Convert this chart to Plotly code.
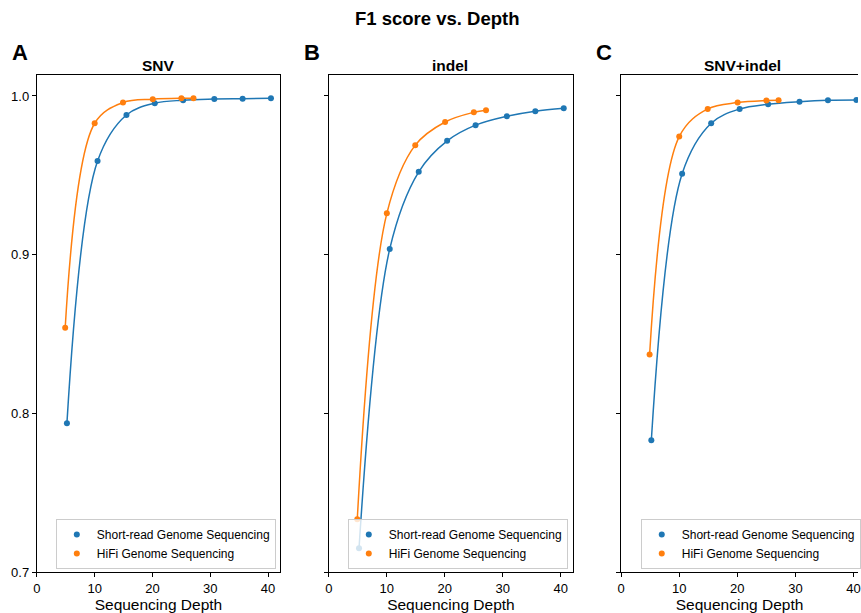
import plotly.graph_objects as go

# ---- data ----
short_depth = [5.2, 10.5, 15.5, 20.4, 25.3, 30.7, 35.6, 40.5]
hifi_depth = [4.9, 10.0, 14.9, 20.05, 25.0, 27.1]

snv_short = [0.7937, 0.959, 0.988, 0.9954, 0.9973, 0.998, 0.9983, 0.9985]
snv_hifi = [0.8539, 0.9828, 0.9958, 0.9979, 0.9985, 0.9985]

indel_short = [0.7149, 0.9036, 0.9522, 0.9717, 0.9816, 0.9872, 0.9904, 0.9922]
indel_hifi = [0.7333, 0.926, 0.969, 0.9836, 0.9897, 0.991]

all_short = [0.783, 0.951, 0.9828, 0.9918, 0.9948, 0.9964, 0.9973, 0.9975]
all_hifi = [0.837, 0.9744, 0.9918, 0.9958, 0.9971, 0.9973]

panel_titles = ["SNV", "indel", "SNV+indel"]
panel_letters = ["A", "B", "C"]
series_names = ["Short-read Genome Sequencing", "HiFi Genome Sequencing"]
y_ticks = [0.7, 0.8, 0.9, 1.0]
x_ticks = [0, 10, 20, 30, 40]

BLUE = "#1f77b4"
ORANGE = "#ff7f0e"
FONT = "Liberation Sans, Arial, Helvetica, sans-serif"

W, H = 861, 613
panels_px = [(37, 281), (330, 575), (623.3, 861)]
x_ranges = [[0, 42.07], [0, 42.1], [0, 40.77]]
legend_left_px = [56, 349, 643]
y_top_px, y_bot_px = 75, 572

fig = go.Figure()

data = [(snv_short, snv_hifi), (indel_short, indel_hifi), (all_short, all_hifi)]

for i, (s_vals, h_vals) in enumerate(data):
    xa = "x" if i == 0 else f"x{i+1}"
    ya = "y" if i == 0 else f"y{i+1}"
    lg = "legend" if i == 0 else f"legend{i+1}"
    for depth, vals, color, name in [
        (short_depth, s_vals, BLUE, series_names[0]),
        (hifi_depth, h_vals, ORANGE, series_names[1]),
    ]:
        fig.add_trace(go.Scatter(
            x=depth, y=vals, mode="lines",
            line=dict(color=color, width=1.5, shape="spline", smoothing=1.0),
            xaxis=xa, yaxis=ya, showlegend=False, hoverinfo="skip"))
        fig.add_trace(go.Scatter(
            x=depth, y=vals, mode="markers", marker=dict(color=color, size=6),
            name=name, xaxis=xa, yaxis=ya, legend=lg, showlegend=True))

layout = dict(
    width=W, height=H,
    margin=dict(l=0, r=0, t=0, b=0),
    paper_bgcolor="white", plot_bgcolor="white",
    font=dict(family=FONT, color="black", size=13),
)

ydom = [(H - y_bot_px) / H, (H - y_top_px) / H]
annotations = []
for i, ((x0, x1), xr) in enumerate(zip(panels_px, x_ranges)):
    sfx = "" if i == 0 else str(i + 1)
    layout[f"xaxis{sfx}"] = dict(
        domain=[x0 / W, x1 / W], range=xr, anchor=f"y{sfx}",
        tickvals=x_ticks, ticks="outside", ticklen=4, tickwidth=1, tickcolor="black",
        showline=True, linecolor="black", linewidth=1.2, mirror=True,
        showgrid=False, zeroline=False, tickfont=dict(size=13, family=FONT),
        title=dict(text="Sequencing Depth", font=dict(size=15.5, family=FONT), standoff=1),
        automargin=False,
    )
    layout[f"yaxis{sfx}"] = dict(
        domain=ydom, range=[0.7, 1.0132], anchor=f"x{sfx}",
        tickvals=y_ticks, ticktext=[f"{v:.1f}" for v in y_ticks],
        showticklabels=(i == 0),
        ticks="outside", ticklen=4, tickwidth=1, tickcolor="black",
        showline=True, linecolor="black", linewidth=1.2, mirror=(i != 2),
        showgrid=False, zeroline=False, tickfont=dict(size=13, family=FONT),
        automargin=False,
    )
    lg = "legend" if i == 0 else f"legend{i+1}"
    layout[lg] = dict(
        x=legend_left_px[i] / W, y=(H - 569) / H, xanchor="left", yanchor="bottom",
        bgcolor="rgba(255,255,255,0.8)", bordercolor="#cccccc", borderwidth=1,
        font=dict(size=12, family=FONT), tracegroupgap=0,
    )
    cx = (x0 + (x0 + 244)) / 2
    annotations.append(dict(
        text=f"<b>{panel_titles[i]}</b>", x=cx / W, y=(H - 65) / H,
        xref="paper", yref="paper", xanchor="center", yanchor="middle",
        showarrow=False, font=dict(size=15.5, family=FONT)))
    annotations.append(dict(
        text=f"<b>{panel_letters[i]}</b>", x=(x0 - 17) / W, y=(H - 52) / H,
        xref="paper", yref="paper", xanchor="center", yanchor="middle",
        showarrow=False, font=dict(size=22, family=FONT)))

annotations.append(dict(
    text="<b>F1 score vs. Depth</b>", x=439 / W, y=(H - 19) / H,
    xref="paper", yref="paper", xanchor="center", yanchor="middle",
    showarrow=False, font=dict(size=18.5, family=FONT)))
layout["annotations"] = annotations

fig.update_layout(**layout)
fig.write_html(
    "out.html",
    config={"displayModeBar": False},
    post_script="document.body.style.margin='0';document.body.style.overflow='hidden';",
)
